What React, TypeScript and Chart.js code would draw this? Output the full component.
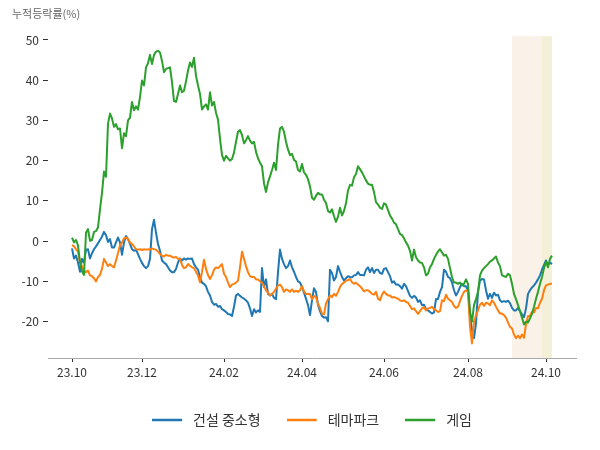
import { useEffect, useRef } from 'react';
import { Chart, registerables } from 'chart.js';

Chart.register(...registerables);

const FONT = "'Noto Sans CJK KR', 'Noto Sans', sans-serif";

const seriesNames = ['건설 중소형', '테마파크', '게임'];
const seriesColors = ['#1f77b4', '#ff7f0e', '#2ca02c'];

const construction = [
  -1.8, -4.3, -3.6, -5.3, -7.6, -4.4, -5.3, -2.1, -2, -4.3, -3, -2, -1.3, -0.5, 0.3, 1.1, 2.3, 1.5, -0.2, 0.5,
  -1.6, -1.6, -0.3, 0.9, -0.3, -3.4, -0.3, 1.3, 0.5, -0.7, -2, -2.4, -2.1, -3.2, -4.4, -5.4, -6.2, -6.7, -6.2, -4.4,
  3, 5.3, 2.1, -0.7, -2.4, -4.8, -5.3, -5.7, -6.5, -7.3, -7.7, -7.7, -6.9, -5.3,
  -4.3, -4.8, -4.3, -4.6, -4.3, -4.4, -4.3, -5.7, -6.5, -7.1, -8.9, -10.3, -10.6, -11.2, -12.6, -13.5, -15.1, -15.8, -15.6, -16.3,
  -16.1, -16.9, -17.2, -17.6, -18.1, -18.2, -18.6, -16.3, -13.5, -13.1, -13.6, -14, -14.3, -14.7, -15.3, -16.7, -18.6, -16.9, -17.7, -17.2,
  -17.6, -6.7, -11.4, -9.5, -13.1, -13.5, -13.1, -14.1, -14.4, -7.7, -2.1, -4.4, -5.7, -6.7, -6.2, -4.8, -6.5, -7.6, -8.9, -10,
  -10.3, -11.4, -12.8, -14.3, -15.9, -18.4,
  -14.7, -11.7, -12.6, -15.8, -17.4, -18.6, -19, -18.9, -19.9, -7.1, -7.9, -9.8, -8.9, -6.2, -7.6, -8.9, -9.8, -9.2, -8.7, -8.9,
  -9, -8.5, -8.4, -7.7, -8.4, -8.4, -8.5, -7.1, -6.5, -7.7, -6.7, -7.9, -7.1, -7.1, -7.9, -8.1, -6.9, -6.7, -7.7, -8.7,
  -10.3, -10, -10.8, -10.8, -11.2, -11.8, -10.6, -11.2, -12.4, -13.6, -14.1, -13.6, -14, -15.1, -14.7, -15.9, -15.8, -16.9, -17.2, -17.6,
  -18, -17.7, -14.4, -14.4, -12.6,
  -11.4, -7.1, -7.6, -8.9, -9.2, -10.3, -12.2, -13.5, -12.6, -11.4, -10.6, -11.2, -11.2, -12.2, -18.6, -22.1, -24.1, -20.4, -12.6, -9.8,
  -9.4, -9.5, -12.2, -14.3, -13.1, -14.1, -12.8, -13.5, -13.3, -14.7, -15.1, -14.9, -15.1, -14.8, -15.4, -16.6, -17.2, -17.2, -16.6, -17.4,
  -18.2, -18.9, -16.7, -13.1, -12.2, -11.5, -11, -10.3, -9.5, -8.5, -7.1, -5.9, -4.8, -5.9, -5.3, -5.7,
];

const themePark = [
  -1, -1.3, -2, -2.6, -5.3, -6.2, -7.3, -7.7, -7.3, -8.5, -8.7, -9.2, -10, -8.9, -8.4, -6.9, -4.4, -5.3, -6.2, -5.7,
  -6.2, -6.5, -4.8, -3, -1, -0.3, 0.7, 0.9, 0.5, -0.3, -0.7, -1.3, -2, -2.1, -2, -2.2, -2, -2.1, -2, -2.1,
  -1.8, -2, -2.1, -2.6, -3.2, -3.6, -3.8, -3.4, -3.6, -3.6, -3.9, -4.1, -3.9, -4.4,
  -4.4, -5.9, -6.7, -6.5, -5.7, -6.1, -6.5, -6.7, -7.6, -8.5, -10.2, -7.7, -4.6, -6.9, -8.4, -9.4, -8.5, -7.1, -6.5, -6.7,
  -6.2, -5.7, -8.1, -8.9, -10.3, -11.4, -10.8, -10.6, -10.3, -9.8, -6.5, -2.6, -4.4, -6.2, -7.7, -8.7, -8.9, -8.9, -9.5, -9.5,
  -10, -10.3, -11.2, -12.2, -12.8, -13.5, -13.1, -12.6, -11.8, -11, -10.8, -11.4, -12.6, -12, -12.2, -12.6, -12, -12.6, -12.3, -12.6,
  -12.2, -11.2, -12.5, -13.1, -13.1, -13.1,
  -14.4, -13.6, -13.9, -15.5, -16.6, -18, -18.2, -15.5, -14.4, -13.5, -13.9, -13.1, -13.6, -12.6, -11.4, -10.6, -10.3, -9.8, -9.7, -9.4,
  -10.2, -10.6, -10.3, -10.8, -11.2, -11.8, -12.5, -12.2, -12.2, -12.6, -13.1, -13.3, -12.6, -14.3, -14.7, -13.3, -12.5, -13.1, -13.5, -13.5,
  -14, -13.9, -14.1, -14.3, -14.7, -14.9, -14.7, -15.1, -15.3, -16.1, -16.9, -16.7, -17.4, -18.1, -17.4, -16.7, -16.4, -17.2, -16.7, -16.6,
  -16.3, -16.9, -17.2, -17.6, -17.4,
  -14.7, -14.9, -13.3, -14.3, -14.7, -15.1, -16.1, -16.6, -16.3, -14.9, -13.6, -12.6, -12.2, -12.6, -21.3, -25.4, -20, -18.4, -17.2, -15.8,
  -15.3, -16.1, -15.3, -15.5, -15.9, -14.7, -15.3, -16.3, -17.2, -18, -18, -18.4, -19, -20.2, -21.3, -21.7, -23.2, -24.1, -23.5, -24.1,
  -23.2, -24, -20.7, -18.6, -18.6, -17.6, -17.7, -16.6, -16.7, -15.3, -14.3, -12.2, -11, -10.8, -10.6, -10.6,
];

const game = [
  0.9, -0.3, 0.3, -1.1, -5.3, -7.5, -8.4, 2.1, 3, 0.1, 0.3, 2.3, 2.5, 3.4, 7.9, 12, 17.3, 16, 29.2, 31.7,
  30.5, 28.4, 29.1, 27.8, 28, 23.1, 26.8, 26.1, 30, 30.7, 34.6, 32.5, 33.5, 32.7, 35.8, 39.9, 38.7, 43.2, 44.2, 46.3,
  44, 46.3, 47.1, 47.3, 46.9, 44.8, 42, 42.8, 43, 43.2, 39.5, 34.8, 34.6, 36.6,
  38.7, 37, 37.4, 39.7, 42.4, 44.4, 43.3, 45.6, 41.1, 38.7, 36.6, 32.7, 33.5, 34, 32.7, 37, 33.7, 34.6, 31.9, 30.2,
  25.5, 21.4, 20, 21.2, 20.6, 20, 20.4, 22, 24.7, 27.2, 27.6, 26.4, 24.3, 25.1, 26.1, 25, 24.3, 24.7, 22.2, 20.6,
  19.5, 18.6, 14.4, 12.2, 14.6, 16.1, 17.7, 19.5, 17.7, 23.9, 28, 28.4, 27.2, 24.7, 22.8, 21.4, 21.7, 20.2, 19.8, 17.7,
  17.3, 19.2, 17.1, 16.5, 15.4, 13.6,
  10.8, 10.3, 11.3, 12, 11.6, 11.6, 10.3, 9.5, 7.5, 7.1, 7.9, 6.2, 4.8, 6.1, 8.3, 6.4, 7.5, 9.4, 12.6, 14,
  13.8, 15.9, 16.7, 18.6, 17.9, 17.1, 16.1, 15.1, 14.3, 14, 14, 12.2, 9.7, 9.1, 8.3, 8, 9.4, 9.1, 7.7, 6.4,
  5.6, 4.6, 4.2, 3, 1.8, 1.5, 0.7, -0.3, -1.1, -2.4, -4.8, -2.1, -4, -4.8, -5.3, -5.4, -6.5, -8.5, -8.1, -6.5,
  -5.7, -4.4, -3.4, -2.6, -2,
  -2.8, -3.6, -3.4, -4.4, -6.7, -8.9, -10.3, -10.3, -10.6, -10.3, -11, -10.6, -9.5, -10.6, -17.6, -20, -15.9, -14.4, -12.6, -8.5,
  -7.3, -6.7, -6.2, -5.7, -5.1, -4.8, -4.3, -3.8, -5.3, -6.2, -8.5, -8.7, -8.9, -8.1, -8.5, -10.6, -13.1, -14.4, -15.9, -17.4,
  -19, -20.7, -20, -20.2, -19.2, -18, -16.3, -14.3, -12.6, -10.6, -8.9, -6.7, -5.1, -6.5, -4.4, -3.6,
];

const xTickIndex = [0, 35, 76, 115, 156, 198, 237];
const xTickLabels = ['23.10', '23.12', '24.02', '24.04', '24.06', '24.08', '24.10'];
const yTickValues = [-20, -10, 0, 10, 20, 30, 40, 50];
const shadeFrom = [220, 235];
const shadeTo = [240, 240];
const yTitle = '누적등락률(%)';

const seriesValues = [construction, themePark, game];

export default function App() {
  const ref = useRef<HTMLCanvasElement>(null);

  useEffect(() => {
    const canvas = ref.current;
    if (!canvas) return;

    const n = Math.max(...seriesValues.map((s) => s.length));
    const xMin = -(n - 1) * 0.05;
    const xMax = (n - 1) * 1.05;
    const all = seriesValues.flat();
    const lo = Math.min(...all);
    const hi = Math.max(...all);
    const yMin = lo - (hi - lo) * 0.05;
    const yMax = hi + (hi - lo) * 0.05;

    const swatches = seriesColors.map((c) => {
      const cv = document.createElement('canvas');
      cv.width = 34;
      cv.height = 4;
      const g = cv.getContext('2d')!;
      g.strokeStyle = c;
      g.lineWidth = 2.5;
      g.beginPath();
      g.moveTo(0, 2);
      g.lineTo(30, 2);
      g.stroke();
      return cv;
    });

    const shadeColors = ['#faf1e8', '#f4f0d8'];
    const shadePlugin = {
      id: 'shade',
      beforeDatasetsDraw(chart: any) {
        const { ctx, chartArea, scales } = chart;
        const xs = scales.x;
        ctx.save();
        shadeFrom.forEach((f, k) => {
          const x0 = xs.getPixelForValue(f);
          const x1 = xs.getPixelForValue(shadeTo[k]);
          ctx.fillStyle = shadeColors[k];
          ctx.fillRect(x0, chartArea.top, x1 - x0, chartArea.bottom - chartArea.top);
        });
        ctx.restore();
      },
    };

    const chart = new Chart(canvas, {
      type: 'line',
      data: {
        datasets: seriesValues.map((vals, k) => ({
          label: seriesNames[k],
          data: vals.map((v, i) => ({ x: i, y: v })),
          borderColor: seriesColors[k],
          backgroundColor: seriesColors[k],
          borderWidth: 2,
          pointRadius: 0,
          tension: 0,
          borderJoinStyle: 'round' as const,
          order: 2 - k,
        })),
      },
      options: {
        animation: false,
        responsive: false,
        devicePixelRatio: 1,
        events: [],
        layout: { padding: { left: 12, right: 24, top: 0, bottom: 13 } },
        scales: {
          x: {
            type: 'linear',
            min: xMin,
            max: xMax,
            afterBuildTicks: (s: any) => {
              s.ticks = xTickIndex.map((v) => ({ value: v }));
            },
            afterFit: (s: any) => {
              s.height = 29;
            },
            grid: { drawOnChartArea: false, drawTicks: true, tickLength: 4, color: '#333' },
            border: { display: true, color: '#aaaaaa', width: 1 },
            ticks: {
              autoSkip: false,
              maxRotation: 0,
              padding: 3,
              color: '#333',
              font: { family: FONT, size: 12 },
              callback: (v: any) => {
                const idx = xTickIndex.indexOf(Number(v));
                return idx >= 0 ? xTickLabels[idx] : '';
              },
            },
          },
          y: {
            type: 'linear',
            min: yMin,
            max: yMax,
            afterBuildTicks: (s: any) => {
              s.ticks = yTickValues.map((v) => ({ value: v }));
            },
            afterFit: (s: any) => {
              s.width = 36;
            },
            grid: { drawOnChartArea: false, drawTicks: true, tickLength: 5, color: '#333' },
            border: { display: false },
            ticks: { color: '#333', padding: 4, font: { family: FONT, size: 12 } },
          },
        },
        plugins: {
          tooltip: { enabled: false },
          title: {
            display: true,
            text: yTitle,
            align: 'start',
            color: '#666',
            font: { family: FONT, size: 11, weight: 'normal' },
            padding: { top: 7, bottom: 16 },
          },
          legend: {
            position: 'bottom',
            fullSize: false,
            labels: {
              usePointStyle: true,
              pointStyleWidth: 34,
              padding: 26,
              color: '#333',
              font: { family: FONT, size: 14 },
              sort: (a: any, b: any) => a.datasetIndex - b.datasetIndex,
              generateLabels: (c: any) =>
                (Chart.defaults.plugins.legend.labels.generateLabels as any)(c).map((it: any) => ({
                  ...it,
                  pointStyle: swatches[it.datasetIndex],
                })),
            },
          },
        },
      } as any,
      plugins: [shadePlugin],
    });

    return () => chart.destroy();
  }, []);

  return (
    <div style={{ position: 'fixed', left: 0, top: 0, width: 600, height: 450, background: '#fff' }}>
      <canvas ref={ref} width={600} height={450} style={{ display: 'block', width: 600, height: 450 }} />
    </div>
  );
}
